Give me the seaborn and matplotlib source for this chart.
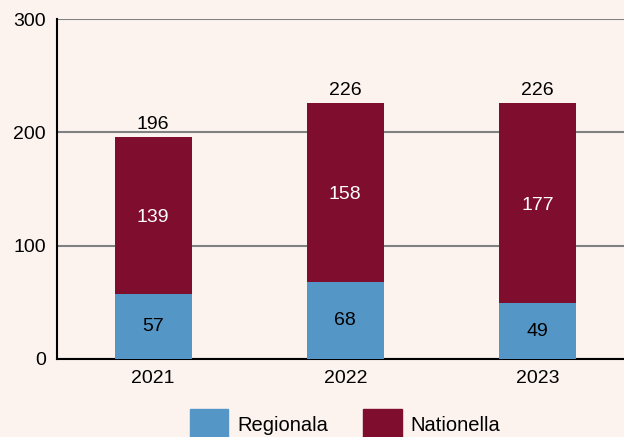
import numpy as np
import pandas as pd
from matplotlib import pyplot as plt
import seaborn as sns

years = ['2021', '2022', '2023']
regionala = [57, 68, 49]
nationella = [139, 158, 177]
totals = [r + n for r, n in zip(regionala, nationella)]

bg = '#fcf3ef'
blue = '#5497c7'
red = '#7f0d2e'

sns.set_style('white')
plt.rcParams['font.family'] = ['Liberation Sans', 'DejaVu Sans']

fig = plt.figure(figsize=(6.24, 4.37), dpi=100, facecolor=bg)
ax = fig.add_axes([0.0913, 0.1785, 0.9087, 0.778])
ax.set_facecolor(bg)

df = pd.DataFrame({'year': years, 'Regionala': regionala,
                   'Nationella': nationella, 'total': totals})

# stacked: draw totals first, regional part on top of it
sns.barplot(data=df, x='year', y='total', color=red, width=0.4,
            saturation=1, linewidth=0, ax=ax, zorder=3)
sns.barplot(data=df, x='year', y='Regionala', color=blue, width=0.4,
            saturation=1, linewidth=0, ax=ax, zorder=3)

for i in range(len(years)):
    ax.text(i, regionala[i] / 2, str(regionala[i]), ha='center', va='center',
            fontsize=14, color='black', zorder=4)
    ax.text(i, regionala[i] + nationella[i] / 2, str(nationella[i]),
            ha='center', va='center_baseline', fontsize=14, color='white', zorder=4)
    ax.annotate(str(totals[i]), (i, totals[i]), xytext=(0, 3),
                textcoords='offset points', ha='center', va='bottom',
                fontsize=14, color='black')

ax.set_xlim(-0.5, 2.45)
ax.set_ylim(0, 300)
ax.set_yticks([0, 100, 200, 300])
ax.set_xlabel('')
ax.set_ylabel('')
ax.yaxis.grid(True, color='#808080', linewidth=1.5, zorder=0)
ax.set_axisbelow(True)
for s in ['top', 'right']:
    ax.spines[s].set_visible(False)
for s in ['left', 'bottom']:
    ax.spines[s].set_color('black')
    ax.spines[s].set_linewidth(1.5)
ax.tick_params(axis='both', length=0, labelsize=14, colors='black', pad=8)
ax.set_xticks([0.5, 1.5], minor=True)
ax.tick_params(axis='x', which='minor', direction='in', length=7, width=1.2)

handles = [plt.Rectangle((0, 0), 1, 1, color=blue),
           plt.Rectangle((0, 0), 1, 1, color=red)]
fig.legend(handles, ['Regionala', 'Nationella'], loc='upper center',
           bbox_to_anchor=(0.553, 0.106), ncol=2, frameon=False, fontsize=14.5,
           handlelength=1.9, handleheight=2.1, columnspacing=1.75,
           handletextpad=0.45, labelcolor='black')

fig.savefig('out.png', dpi=100, facecolor=bg)
